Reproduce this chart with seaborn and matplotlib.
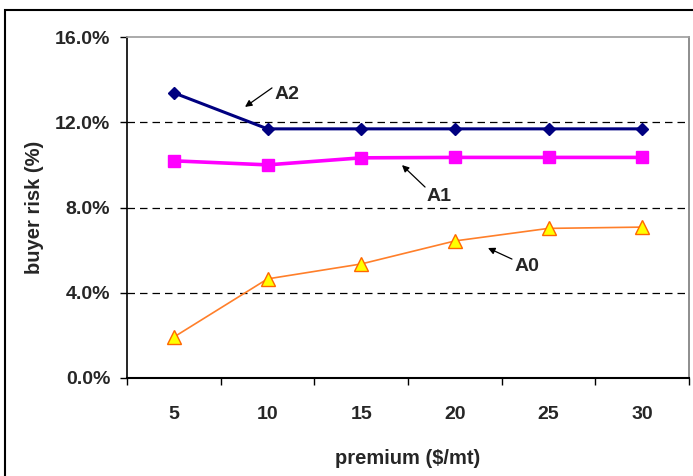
import matplotlib
matplotlib.use("Agg")
import matplotlib.pyplot as plt
import seaborn as sns
import pandas as pd
from matplotlib.patches import Rectangle
from matplotlib.ticker import FuncFormatter, FixedLocator

premium = [5, 10, 15, 20, 25, 30]
a2 = [13.38, 11.69, 11.69, 11.69, 11.69, 11.69]
a1 = [10.19, 10.00, 10.33, 10.35, 10.35, 10.35]
a0 = [1.92, 4.65, 5.35, 6.43, 7.02, 7.08]
yticks = [0, 4, 8, 12, 16]

sns.set_theme(style="white")
plt.rcParams['font.family'] = ['Liberation Sans', 'DejaVu Sans']

df = pd.DataFrame({"premium": premium * 3,
                   "risk": a2 + a1 + a0,
                   "series": ["A2"] * 6 + ["A1"] * 6 + ["A0"] * 6})

fig = plt.figure(figsize=(6.93, 4.76), dpi=100)
ax = fig.add_axes([127/693, 1 - 378/476, (689-127)/693, (378-37)/476])

styles = {
    "A2": dict(color="#000080", lw=2.2, marker="D", ms=6.5, mfc="#000080", mec="#000080"),
    "A1": dict(color="#FF00FF", lw=2.6, marker="s", ms=8, mfc="#FF00FF", mec="#FF00FF"),
    "A0": dict(color="#FF7F2A", lw=1.2, marker="^", ms=9.5, mfc="#FFFF00", mec="#FF6600"),
}
for name in ["A0", "A1", "A2"]:
    sub = df[df.series == name]
    st = styles[name]
    sns.lineplot(data=sub, x="premium", y="risk", ax=ax, color=st["color"], lw=st["lw"],
                 marker=st["marker"], markersize=st["ms"], markerfacecolor=st["mfc"],
                 markeredgecolor=st["mec"], markeredgewidth=1.0, zorder=3)

ax.set_xlim(2.5, 32.5)
ax.set_ylim(0, 16)
ax.set_yticks(yticks)
ax.yaxis.set_major_formatter(FuncFormatter(lambda v, p: f"{v:.1f}%"))
ax.set_xticks(premium)
ax.set_xticklabels([str(p) for p in premium])
ax.xaxis.set_minor_locator(FixedLocator([2.5 + 5 * i for i in range(7)]))
ax.tick_params(axis="x", which="major", length=0, pad=20, labelsize=14)
ax.tick_params(axis="x", which="minor", length=5, width=1, color="black", direction="out", bottom=True)
ax.tick_params(axis="y", which="major", length=5, width=1, color="black", direction="out", left=True, labelsize=14, pad=7)
for lab in ax.get_xticklabels() + ax.get_yticklabels():
    lab.set_fontweight("bold")

for y in [4, 8, 12]:
    ax.axhline(y, color="black", lw=0.9, ls=(0, (6, 4)), zorder=1)

ax.spines["left"].set_color("black")
ax.spines["bottom"].set_color("black")
ax.spines["left"].set_linewidth(1.2)
ax.spines["bottom"].set_linewidth(1.5)
ax.spines["top"].set_color("#A0A0A0")
ax.spines["right"].set_color("#808080")

ax.set_xlabel("premium ($/mt)", fontsize=14.5, fontweight="bold", labelpad=19)
ax.set_ylabel("buyer risk (%)", fontsize=14.5, fontweight="bold", labelpad=8)

def ann(label, text_xy, tail, head):
    ax.text(text_xy[0], text_xy[1], label, fontsize=14, fontweight="bold",
            ha="left", va="center")
    ax.annotate("", xy=head, xytext=tail,
                arrowprops=dict(arrowstyle="-|>", color="black", lw=0.9,
                                mutation_scale=10, shrinkA=0, shrinkB=0))

ann("A2", (10.40, 13.30), (10.24, 13.61), (8.80, 12.72))
ann("A1", (18.51, 8.52), (18.41, 8.96), (17.18, 9.99))
ann("A0", (23.21, 5.22), (23.05, 5.58), (21.77, 6.10))

fig.patches.append(Rectangle((5/693, -0.05), 1.0, 1 - 10/476 + 0.05, transform=fig.transFigure,
                             fill=False, edgecolor="black", lw=1.5))

fig.savefig("out.png", dpi=100)
